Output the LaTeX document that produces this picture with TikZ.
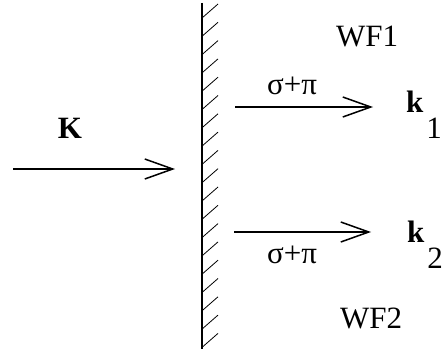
\documentclass[tikz,border=0pt]{standalone}
\usepackage{fontspec}
\setmainfont{Liberation Serif}
\usetikzlibrary{arrows.meta}
\tikzset{
	ray/.style={line width=1.5pt, -{Straight Barb[length=28pt,width=20pt,line width=1.5pt]}},
	lbl/.style={anchor=base, inner sep=0pt, font=\fontsize{31}{36}\selectfont}
}
\begin{document}
\begin{tikzpicture}[x=1pt,y=-1pt]
		\useasboundingbox (0,0) rectangle (442,353);

		% wall
		\draw	[line width=2pt] (202,3) -- (202,349);
		\foreach \h in {0,...,18}
			\draw	[line width=0.8pt] (202,18+18.3*\h) -- (218,4+18.3*\h);

		% end points
		\coordinate (inA) at (13,169);
		\coordinate (inB) at (175,169);
		\coordinate (upA) at (235,107);
		\coordinate (upB) at (373,107);
		\coordinate (loA) at (234,232);
		\coordinate (loB) at (371,232);

		% rays
		\draw	[ray] (inA) -- (inB);
		\draw	[ray] (upA) -- (upB);
		\draw	[ray] (loA) -- (loB);

		% labels
		\node	[lbl] (K) at (70,139) {\textbf{K}};
		\node	[lbl] (wf1) at (367,47) {WF1};
		\node	[lbl] (sp1) at (292,95) {σ+π};
		\node	[lbl] (sp2) at (292,263) {σ+π};
		\node	[lbl] (wf2) at (371,328) {WF2};
		\node	[lbl, anchor=base west] (k1) at (406,112) {\textbf{k}\hspace{3pt}\raisebox{-27pt}{1}};
		\node	[lbl, anchor=base west] (k2) at (407,242) {\textbf{k}\hspace{3pt}\raisebox{-26pt}{2}};
	\end{tikzpicture}
\end{document}
